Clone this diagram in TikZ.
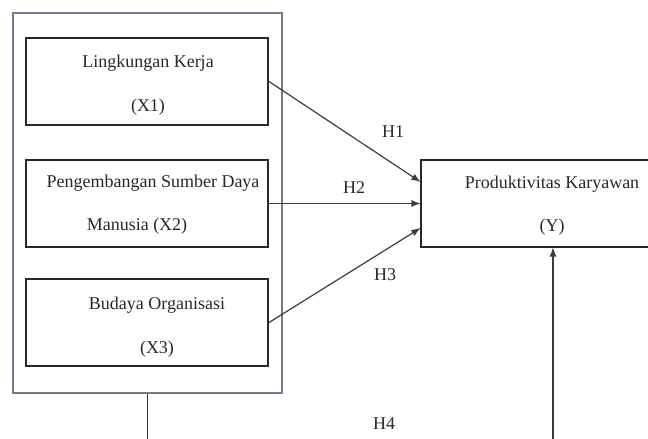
\documentclass[tikz,border=0pt]{standalone}
\usepackage{fontspec}
\setmainfont{Liberation Serif}
\usepackage{tikz}
\usetikzlibrary{arrows,positioning}

\definecolor{bingkai}{RGB}{118,122,140}
\definecolor{garis}{RGB}{40,40,40}
\definecolor{tulisan}{RGB}{40,40,40}

\begin{document}
\begin{tikzpicture}
	[x=0.5pt,y=-0.5pt,
	kotak/.style={rectangle,draw=garis,line width=1pt,
		inner sep=0pt,minimum width=121pt,minimum height=43.5pt},
	kotakluar/.style={rectangle,draw=bingkai,line width=1pt,
		inner sep=0pt,minimum width=134.5pt,minimum height=190pt},
	kotaky/.style={rectangle,inner sep=0pt,minimum width=120pt,minimum height=43.5pt},
	teks/.style={text=tulisan,font=\fontsize{9}{11}\selectfont,inner sep=1pt},
	panah/.style={draw=garis!90,line width=0.6pt,-latex}]
	\useasboundingbox (0,0) rectangle (648,439);

	%kotak
	\node (luar) at (147.5,203) [kotakluar] {};
	\node (x1) at (147,81.5) [kotak] {};
	\node (x2) at (147,203.5) [kotak] {};
	\node (x3) at (147,322.5) [kotak] {};
	\node (y) at (541,203.5) [kotaky] {};
	\draw[draw=garis,line width=1pt] (y.north east) -| (y.west) |- (y.south east);

	%variabel
	\node (x1a) at (148,63) [teks] {Lingkungan Kerja};
	\node (x1b) at (148,107) [teks] {(X1)};
	\node (x2a) at (153,183) [teks] {Pengembangan Sumber Daya};
	\node (x2b) at (137,226) [teks] {Manusia (X2)};
	\node (x3a) at (157,305) [teks] {Budaya Organisasi};
	\node (x3b) at (157,349) [teks] {(X3)};
	\node (ya) at (552,184) [teks] {Produktivitas Karyawan};
	\node (yb) at (552,227) [teks] {(Y)};

	%hipotesis
	\node (h1) at (393,132) [teks] {H1};
	\node (h2) at (354,188) [teks] {H2};
	\node (h3) at (385,275) [teks] {H3};
	\node (h4) at (384,424) [teks] {H4};

	\coordinate (bawah) at (350,470);
	\draw[panah] (x1.east) -- ([yshift=10.75pt]y.west);
	\draw[panah] (x2.east) -- (y.west);
	\draw[panah] (x3.east) -- ([yshift=-12.25pt]y.west);
	\draw[panah] (luar.south) |- (bawah) -| ([xshift=6pt]y.south);
\end{tikzpicture}
\end{document}
